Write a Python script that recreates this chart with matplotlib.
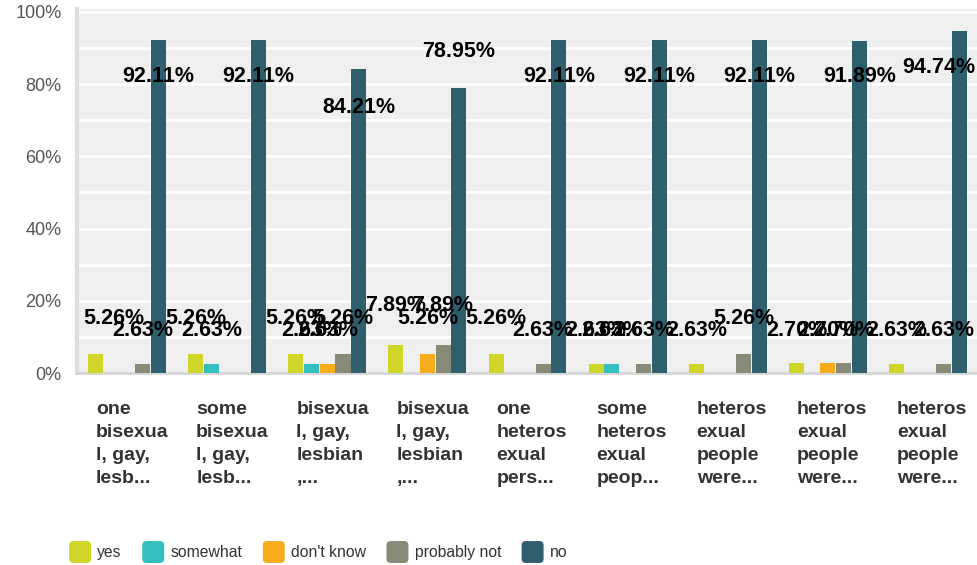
import numpy as np
import matplotlib
matplotlib.use("Agg")
import matplotlib.pyplot as plt
from matplotlib.patches import Patch, FancyBboxPatch
from matplotlib.legend_handler import HandlerPatch

plt.rcParams['font.family'] = ['Liberation Sans', 'DejaVu Sans']

categories = [
    "one\nbisexua\nl, gay,\nlesb...",
    "some\nbisexua\nl, gay,\nlesb...",
    "bisexua\nl, gay,\nlesbian\n,...",
    "bisexua\nl, gay,\nlesbian\n,...",
    "one\nheteros\nexual\npers...",
    "some\nheteros\nexual\npeop...",
    "heteros\nexual\npeople\nwere...",
    "heteros\nexual\npeople\nwere...",
    "heteros\nexual\npeople\nwere...",
]
series_names = ["yes", "somewhat", "don't know", "probably not", "no"]
yes = [5.26, 5.26, 5.26, 7.89, 5.26, 2.63, 2.63, 2.70, 2.63]
somewhat = [0, 2.63, 2.63, 0, 0, 2.63, 0, 0, 0]
dont_know = [0, 0, 2.63, 5.26, 0, 0, 0, 2.70, 0]
probably_not = [2.63, 0, 5.26, 7.89, 2.63, 2.63, 5.26, 2.70, 2.63]
no = [92.11, 92.11, 84.21, 78.95, 92.11, 92.11, 92.11, 91.89, 94.74]

colors = ["#d0d52a", "#34bec0", "#f7ac1e", "#888a78", "#2f5f6d"]

# label heights of the "no" series as drawn in the original (data units)
no_label_y = [82, 82, 73.6, 88.9, 82, 82, 82, 82, 84.7]

fig = plt.figure(figsize=(9.78, 5.65), dpi=100)
ax = fig.add_axes([77/978, 1-373/565, 1-77/978, (373-9)/565])
ax.set_facecolor("#efefef")

x = np.arange(len(categories))
bw = 0.157
all_series = [yes, somewhat, dont_know, probably_not, no]
labels = []
for k, vals in enumerate(all_series):
    pos = x + (k - 2) * bw
    ax.bar(pos, vals, width=bw * 0.96, color=colors[k], zorder=3)
    for i, v in enumerate(vals):
        if v <= 0:
            continue
        if k == 4:
            ly = no_label_y[i]
        else:
            ly = 8.3 + 1.3 * v
        t = ax.text(pos[i], ly, f"{v:.2f}%", ha="center", va="center",
                    fontsize=15.5, fontweight="bold", color="#000000", zorder=5)
        labels.append(t)

ax.set_xlim(-0.5, len(categories) - 0.5)
ax.set_ylim(0, 100.8)
ax.set_yticks(np.arange(0, 101, 20))
ax.set_yticklabels([f"{v}%" for v in range(0, 101, 20)])
ax.set_yticks(np.arange(0, 101, 10), minor=True)
ax.grid(True, axis="y", which="both", color="white", linewidth=2, zorder=1)
ax.set_xticks(x)
ax.set_xticklabels([])
ax.tick_params(axis="x", length=0)
ax.tick_params(axis="y", which="both", length=0, pad=11, labelsize=13, labelcolor="#555555")

# category labels, left aligned a little left of each group centre
xt = ax.get_xaxis_transform()
for i, c in enumerate(categories):
    ax.text(x[i] - 0.31, -0.077, c, transform=xt, ha="left", va="top",
            fontsize=14, fontweight="bold", color="#333333", linespacing=1.47)

for s in ["top", "right"]:
    ax.spines[s].set_visible(False)
ax.spines["left"].set_color("#dddddd")
ax.spines["left"].set_linewidth(3)
ax.spines["bottom"].set_color("#d6d6d6")
ax.spines["bottom"].set_linewidth(2)

# keep labels inside the plot area horizontally
fig.canvas.draw()
r = fig.canvas.get_renderer()
abox = ax.get_window_extent(r)
inv = ax.transData.inverted()
for t in labels:
    bb = t.get_window_extent(r)
    shift = 0
    if bb.x0 < abox.x0 + 6:
        shift = abox.x0 + 6 - bb.x0
    elif bb.x1 > abox.x1 - 3:
        shift = abox.x1 - 3 - bb.x1
    if shift:
        px, py = ax.transData.transform(t.get_position())
        t.set_position(inv.transform((px + shift, py)))


class RoundHandler(HandlerPatch):
    def create_artists(self, legend, orig_handle, xdescent, ydescent, width, height, fontsize, trans):
        p = FancyBboxPatch((-xdescent, -ydescent), width, height,
                           boxstyle="round,pad=0,rounding_size=3",
                           facecolor=orig_handle.get_facecolor(), edgecolor="none",
                           transform=trans)
        return [p]


handles = [Patch(facecolor=c) for c in colors]
fig.legend(handles, series_names, loc="center left", bbox_to_anchor=(55/978, 1-552/565),
           ncol=5, frameon=False, fontsize=11.3, handlelength=1.4, handleheight=1.77,
           handletextpad=0.4, columnspacing=1.3, labelcolor="#333333",
           handler_map={Patch: RoundHandler()})

fig.savefig("out.png", dpi=100)
